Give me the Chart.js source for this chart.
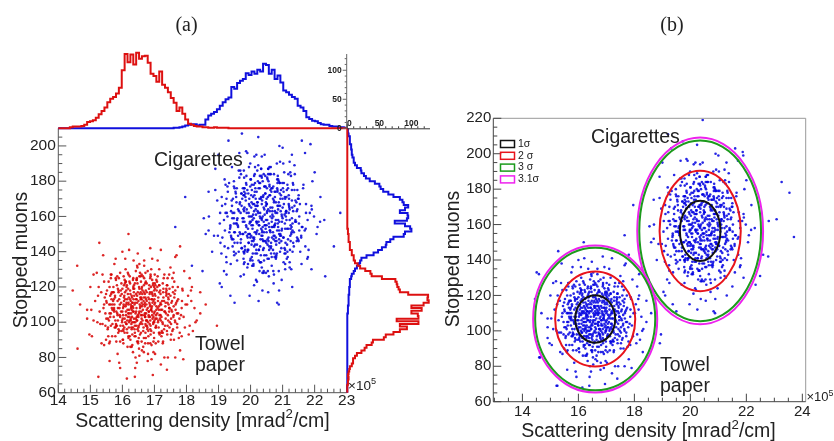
<!DOCTYPE html>
<html>
<head>
<meta charset="utf-8">
<script src="https://cdn.jsdelivr.net/npm/chart.js@4.4.1/dist/chart.umd.min.js"></script>
<style>
  html, body { margin: 0; padding: 0; background: #fff; }
  #wrap { position: relative; width: 834px; height: 441px; overflow: hidden; }
  #wrap canvas { position: absolute; left: 0; top: 0; }
</style>
</head>
<body>
<div id="wrap">
  <canvas id="aMain" width="834" height="441"></canvas>
  <canvas id="aTop" width="834" height="441"></canvas>
  <canvas id="aSide" width="834" height="441"></canvas>
  <canvas id="bMain" width="834" height="441"></canvas>
</div>
<script>
// ---- Data ----
// scattering density in 1e5 mrad^2/cm, stopped muons per voxel
const towelPts = [
  [16.48,104],[16.93,113],[16.12,99],[17.36,117],[16.71,122],[15.86,108],[16.55,93],[17.12,101],[16.29,115],[16.82,106],
  [15.62,103],[17.58,96],[16.04,126],[16.69,110],[16.91,87],[16.21,107],[17.24,112],[15.97,95],[16.47,131],[17.02,119],
  [16.36,100],[15.71,117],[16.78,97],[17.46,108],[16.13,111],[16.61,84],[17.83,104],[15.38,99],[16.88,127],[16.25,90],
  [16.72,114],[17.16,93],[15.83,121],[16.52,105],[17.63,116],[16.01,102],[16.96,99],[16.39,122],[15.51,111],[17.31,106],
  [16.63,118],[16.16,86],[17.06,124],[15.76,97],[16.86,103],[16.44,113],[17.71,99],[16.28,109],[15.93,128],[16.99,91],
  [16.58,100],[17.39,121],[16.07,94],[16.76,107],[15.66,113],[17.21,110],[16.41,80],[16.93,116],[15.29,106],[17.52,102],
  [16.18,119],[16.81,95],[16.53,126],[17.09,105],[15.86,101],[16.66,112],[17.97,110],[16.33,97],[16.02,108],[17.27,89],
  [16.71,103],[15.57,123],[16.89,120],[16.22,101],[17.43,114],[16.49,88],[15.98,116],[17.13,97],[16.61,109],[16.35,135],
  [16.84,111],[16.11,104],[17.05,98],[16.57,117],[15.78,92],[17.29,125],[16.43,106],[16.97,83],[16.26,112],[17.66,107],
  [15.92,110],[16.74,101],[16.38,96],[17.18,118],[16.05,121],[16.67,91],[17.48,100],[15.45,114],[16.91,108],[16.3,103],
  [16.79,129],[15.69,99],[17.35,111],[16.46,115],[16.15,94],[17.01,106],[16.6,102],[15.89,125],[17.57,120],[16.34,108],
  [16.87,96],[16.09,113],[17.22,103],[16.54,110],[15.61,89],[16.95,121],[16.27,105],[17.79,94],[16.7,116],[15.99,100],
  [17.11,112],[16.44,98],[16.82,104],[15.34,117],[17.4,93],[16.19,127],[16.64,107],[17.03,115],[15.81,106],[16.52,85],
  [17.26,99],[16.37,119],[16.92,109],[16.06,97],[18.15,112],[16.58,123],[15.73,103],[17.14,107],[16.23,92],[16.77,101],
  [17.62,123],[16.4,111],[15.95,118],[16.98,94],[16.31,100],[17.34,109],[16.68,132],[15.54,96],[16.86,117],[16.12,110],
  [17.07,102],[16.5,97],[16.2,114],[17.51,90],[16.74,113],[15.84,105],[16.45,124],[17.19,116],[16.03,88],[16.62,104],
  [17.88,118],[16.28,99],[15.67,108],[16.94,102],[16.36,117],[17.3,96],[16.56,114],[15.43,123],[17.0,110],[16.17,103],
  [16.81,92],[16.48,139],[17.42,104],[15.9,113],[16.73,98],[16.08,117],[17.15,121],[16.59,106],[15.49,90],[16.99,100],
  [16.32,109],[17.68,111],[16.87,125],[16.14,96],[17.1,108],[16.42,102],[15.77,115],[16.79,78],[17.37,115],[16.24,122],
  [16.65,95],[16.0,106],[17.2,101],[16.53,119],[15.63,110],[16.9,107],[16.29,86],[17.55,106],[16.76,122],[15.94,98],
  [16.46,111],[18.32,101],[16.1,130],[16.97,112],[16.39,94],[17.28,119],[15.72,120],[16.62,99],[17.04,97],[16.19,110],
  [16.85,116],[15.58,101],[17.46,127],[16.55,108],[16.05,112],[17.12,89],[16.7,105],[15.87,94],[16.34,120],[17.74,113],
  [16.93,104],[16.26,101],[15.41,108],[17.07,118],[16.6,113],[16.11,123],[17.33,98],[16.5,95],[15.96,111],[16.84,121],
  [17.59,103],[16.21,105],[16.75,110],[15.66,127],[17.24,107],[16.43,116],[16.88,98],[16.15,101],[17.95,97],[16.57,126],
  [15.85,104],[16.99,105],[16.35,113],[17.17,102],[16.67,117],[15.52,118],[16.8,100],[16.31,93],[17.44,110],[16.04,109],
  [16.38,110],[16.77,98],[16.06,115],[17.19,104],[16.52,120],[15.93,103],[16.86,109],[16.29,96],[17.44,113],[16.63,101],
  [15.74,107],[17.08,123],[16.41,92],[16.95,115],[16.18,105],[17.6,109],[16.55,128],[15.85,112],[16.72,94],[17.25,100],
  [16.12,118],[16.89,107],[15.55,97],[17.37,119],[16.46,101],[16.01,90],[17.02,111],[16.67,121],[16.24,113],[17.78,102],
  [15.8,99],[16.59,114],[17.14,94],[16.33,124],[16.97,103],[15.65,116],[16.44,108],[17.31,127],[16.09,100],[16.83,119],
  [16.51,91],[17.5,115],[15.97,122],[16.74,105],[16.2,97],[17.06,109],[15.47,105],[16.64,126],[16.36,102],[17.22,92],
  [16.91,113],[16.04,110],[17.65,100],[16.48,117],[15.77,114],[16.8,88],[16.27,108],[17.33,106],[16.6,111],[15.9,95],
  [17.0,101],[16.42,129],[16.16,107],[17.41,98],[16.7,109],[15.6,120],[16.93,124],[16.31,111],[17.12,114],[16.55,99],
  [16.02,104],[17.85,108],[16.78,96],[16.25,116],[15.68,92],[17.27,117],[16.45,103],[16.99,118],[16.14,121],[17.53,111],
  [16.58,94],[15.88,117],[16.87,101],[16.35,106],[17.18,110],[16.65,86],[16.07,102],[17.4,121],[16.5,112],[15.75,110],
  [17.04,97],[16.23,126],[16.81,114],[17.7,105],[16.39,98],[15.96,106],[16.73,118],[17.16,104],[16.19,91],[16.94,111],
  [16.62,116],[15.5,102],[17.35,102],[16.47,122],[16.1,109],[16.85,99],[17.58,117],[16.3,114],[15.83,98],[16.69,104],
  [17.09,120],[16.53,106],[16.0,119],[17.23,95],[16.4,100],[16.76,112],[15.71,112],[17.47,108],[16.22,103],[16.9,130],
  [16.57,113],[16.13,99],[17.01,116],[16.34,119],[15.91,108],[17.3,112],[16.66,97],[16.44,124],[17.11,100],[16.05,114],
  [16.83,106],[15.64,105],[17.62,114],[16.49,89],[16.26,110],[16.96,122],[16.71,103],[15.99,101],[17.2,107],[16.37,115],
  [16.6,119],[17.39,95],[16.17,116],[16.86,110],[15.8,124],[17.05,104],[16.51,98],[16.29,107],[17.73,120],[16.75,101],
  [16.03,96],[16.92,117],[16.43,113],[17.14,109],[15.59,110],[16.68,125],[16.21,100],[17.28,114],[16.58,104],[16.88,93],
  [16.11,106],[17.52,99],[16.36,121],[16.79,108],[15.94,115],[17.0,113],[16.47,96],[16.24,118],[17.36,105],[16.63,110],
  [15.78,101],[16.97,100],[16.32,111],[17.1,126],[16.54,116],[16.08,122],[16.82,103],[17.45,116],[16.41,105],[15.86,119],
  [16.72,99],[17.19,111],[16.15,113],[16.9,95],[16.56,109],[15.69,107],[17.06,107],[16.38,92],[16.99,120],[16.26,102],
  [17.6,104],[16.67,114],[16.02,98],[16.84,113],[16.45,101],[17.26,122],[15.92,104],[16.61,120],[16.19,111],[17.03,102],
  [16.76,117],[16.33,106],[15.62,115],[17.15,117],[16.5,103],[16.93,106],[16.07,124],[17.41,111],[16.28,97],[16.7,111],
  [17.53,107],[17.86,112],[18.17,120],[17.47,119],[17.6,128],[17.03,121],[17.2,141],[16.72,128],[16.46,132],[16.09,136],
  [16.1,123],[15.64,127],[15.1,127],[15.49,116],[15.69,110],[15.03,107],[15.55,102],[14.97,93],[15.56,92],[16.03,95],
  [15.85,82],[16.25,86],[16.39,69],[16.71,88],[17.02,82],[17.42,80],[17.22,94],[17.76,91],[17.71,97],[18.28,100],
  [18.02,110],[17.55,112],[17.65,118],[17.93,129],[17.15,121],[17.15,130],[16.93,136],[16.6,127],[16.21,141],[16.22,123],
  [15.84,126],[15.38,127],[15.67,117],[15.24,115],[14.68,110],[15.6,105],[15.31,99],[15.8,98],[15.43,87],[15.93,89],
  [15.9,77],[16.33,83],[16.6,89],[16.91,79],[17.04,88],[17.65,80],[17.61,90],[17.47,97],[18.1,98],[17.74,105],
  [17.46,108],[17.71,112],[17.87,119],[17.38,118],[17.41,125],[17.01,122],[16.88,126],[16.68,135],[16.45,125],[16.17,128],
  [16.13,120],[15.64,125],[15.73,117],[15.73,113],[15.43,110],[15.74,106],[15.22,100],[15.64,98],[15.88,96],[15.81,89],
  [16.19,92],[16.31,87],[16.53,81],[16.73,91],[16.97,89],[17.26,88],[17.26,94],[17.56,95],[17.43,101],[17.91,103],
  [17.66,110],[18.14,118],[17.38,116],[17.56,125],[17.69,138],[17.01,127],[16.73,123],[16.53,133],[16.34,125],[15.79,136],
  [15.79,125],[15.88,118],[15.26,120],[15.5,112],[15.74,108],[14.9,102],[15.47,98],[15.79,97],[15.59,88],[16.02,90],
  [15.93,74],[16.46,89],[16.67,83],[16.87,88],[17.31,80],[17.16,94],[17.52,93],[18.07,93],[17.64,101],[17.46,106],
  [15.15,112],[18.05,115],[16.45,77],[17.1,135],[15.35,88],[17.85,92],[15.75,133],[16.8,82],[18.25,108],[15.1,101],
  [14.59,132],[14.45,118],[14.6,85],[15.25,69],[15.28,145],[16.19,150],[16.14,68],[16.87,142],[17.5,131],[17.8,143],
  [18.43,117],[18.95,98],[17.8,84],[17.39,73],[18.43,105],[15.05,92],[18.1,125],[15.2,128],[17.9,79],[16.4,74],
  [15.6,78],[18.2,95],[14.9,107],[17.65,137],[15.4,138],[16.95,70],[18.6,110],[15.0,120],[17.2,76],[16.0,140]
];

const cigPts = [
  [20.21,152],[20.68,163],[19.94,145],[21.12,171],[20.47,177],[19.58,158],[20.32,138],[20.89,150],[20.03,168],[20.57,156],
  [19.36,153],[21.35,143],[19.8,182],[20.44,161],[20.66,132],[19.98,157],[21.0,165],[19.72,142],[20.24,189],[20.78,174],
  [20.11,148],[19.45,170],[20.53,144],[21.22,158],[19.88,162],[20.37,128],[21.6,154],[19.12,148],[20.63,184],[20.0,136],
  [20.48,168],[20.92,140],[19.57,176],[20.27,155],[21.4,169],[19.77,150],[20.72,147],[20.14,179],[19.26,162],[21.07,156],
  [20.4,172],[19.9,131],[20.83,181],[19.5,145],[20.61,152],[20.2,166],[21.48,147],[20.04,160],[19.68,186],[20.75,137],
  [20.34,149],[21.15,178],[19.83,141],[20.52,158],[19.42,166],[20.97,161],[20.17,124],[20.7,170],[19.04,156],[21.28,151],
  [19.93,173],[20.58,143],[20.29,183],[20.86,154],[19.61,149],[20.43,164],[21.73,162],[20.09,146],[19.78,159],[21.03,134],
  [20.47,153],[19.33,179],[20.65,176],[19.97,150],[21.19,167],[20.25,135],[19.74,170],[20.9,145],[20.38,160],[20.12,194],
  [20.6,163],[19.87,154],[20.81,146],[20.33,171],[19.54,139],[21.05,185],[20.19,157],[20.73,127],[20.02,165],[21.42,157],
  [19.69,162],[20.5,151],[20.14,144],[20.95,172],[19.81,176],[20.43,138],[21.24,149],[19.21,167],[20.67,159],[20.06,153],
  [20.55,187],[19.46,147],[21.11,163],[20.22,168],[19.91,141],[20.77,156],[20.36,152],[19.65,182],[21.33,178],[20.1,159],
  [20.63,142],[19.85,169],[20.98,153],[20.3,162],[19.38,133],[20.71,177],[20.03,155],[21.55,140],[20.46,173],[19.75,150],
  [20.87,166],[20.2,144],[20.58,154],[19.1,171],[21.16,137],[19.95,188],[20.41,157],[20.79,168],[19.57,156],[20.28,129],
  [21.02,148],[20.13,174],[20.68,161],[19.82,143],[21.9,166],[20.34,183],[19.49,151],[20.9,157],[19.99,135],[20.53,147],
  [21.38,184],[20.16,164],[19.71,173],[20.74,139],[20.07,148],[21.1,160],[20.44,195],[19.3,142],[20.62,175],[19.88,164],
  [20.83,152],[20.26,141],[19.96,170],[21.27,130],[20.5,167],[19.6,155],[20.21,186],[20.95,175],[19.79,133],[20.38,154],
  [21.64,176],[20.04,146],[19.43,159],[20.7,151],[20.12,172],[21.06,142],[20.32,170],[19.19,181],[20.76,163],[19.93,150],
  [20.57,136],[20.24,205],[21.18,153],[19.66,167],[20.49,145],[19.84,173],[20.91,179],[20.35,158],[19.25,134],[20.75,149],
  [20.08,161],[21.44,163],[20.63,188],[19.9,140],[20.86,158],[20.18,151],[19.53,174],[20.55,117],[21.13,175],[20.0,181],
  [20.41,142],[19.76,157],[20.96,146],[20.29,176],[19.39,163],[20.66,157],[20.05,132],[21.31,156],[20.52,182],[19.7,147],
  [20.22,166],[22.06,150],[19.86,197],[20.73,168],[20.15,139],[21.04,179],[19.48,180],[20.39,146],[20.8,144],[19.95,160],
  [20.61,172],[19.34,151],[21.22,191],[20.31,159],[19.81,165],[20.88,129],[20.46,155],[19.63,140],[20.1,178],[21.5,170],
  [20.69,154],[20.02,149],[19.17,158],[20.83,176],[20.36,169],[19.87,183],[21.09,145],[20.26,141],[19.72,166],[20.6,184],
  [21.35,151],[19.97,156],[20.51,162],[19.42,188],[21.0,159],[20.19,174],[20.64,145],[19.91,148],[21.71,143],[20.33,187],
  [19.61,154],[20.75,155],[20.11,167],[20.93,150],[20.43,177],[19.28,177],[20.56,148],[20.07,139],[21.2,166],[19.8,163],
  [20.29,160],[20.72,149],[19.97,166],[21.14,153],[20.5,170],[19.66,151],[20.83,162],[20.18,141],[21.37,166],[20.56,146],
  [19.75,159],[20.99,179],[20.33,134],[20.88,168],[20.07,155],[21.52,160],[20.46,183],[19.78,164],[20.64,139],[21.17,147],
  [20.02,172],[20.79,158],[19.44,143],[21.29,175],[20.37,147],[19.92,133],[20.94,163],[20.59,178],[20.15,166],[21.69,152],
  [19.69,145],[20.51,167],[21.06,139],[20.23,180],[20.89,152],[19.55,171],[20.35,159],[21.24,185],[19.99,148],[20.75,174],
  [20.42,135],[21.43,168],[19.87,178],[20.66,154],[20.11,143],[20.98,160],[19.37,154],[20.55,184],[20.27,150],[21.13,136],
  [20.84,166],[19.94,162],[21.58,148],[20.39,171],[19.67,168],[20.71,129],[20.18,157],[21.25,155],[20.52,163],[19.81,140],
  [20.92,149],[20.33,187],[20.06,158],[21.33,145],[20.62,160],[19.5,176],[20.86,181],[20.22,163],[21.04,167],[20.47,146],
  [19.92,153],[21.78,158],[20.7,141],[20.16,170],[19.58,135],[21.19,172],[20.36,151],[20.91,173],[20.04,178],[21.46,164],
  [20.49,138],[19.78,172],[20.79,148],[20.26,155],[21.1,162],[20.57,126],[19.97,150],[21.32,179],[20.41,165],[19.64,163],
  [20.96,142],[20.13,184],[20.73,169],[21.62,154],[20.3,143],[19.86,155],[20.65,174],[21.08,153],[20.09,132],[20.86,164],
  [20.54,171],[19.4,148],[21.27,150],[20.38,180],[20.0,160],[20.77,146],[21.5,172],[20.21,168],[19.73,142],[20.6,152],
  [21.01,176],[20.44,155],[19.9,175],[21.15,140],[20.31,147],[20.68,165],[19.61,164],[21.39,157],[20.13,151],[20.82,190],
  [20.48,166],[20.03,144],[20.93,170],[20.25,176],[19.81,157],[21.22,164],[20.58,141],[20.35,182],[21.03,148],[19.95,167],
  [20.75,155],[19.54,156],[21.54,167],[20.41,128],[20.17,161],[20.88,180],[20.62,151],[19.89,149],[21.12,158],[20.28,170],
  [20.51,176],[21.31,140],[20.08,171],[20.78,162],[19.7,184],[20.97,152],[20.43,146],[20.2,156],[21.65,178],[20.67,148],
  [19.93,141],[20.84,175],[20.35,167],[21.06,161],[19.49,162],[20.59,188],[20.11,147],[21.2,170],[20.5,155],[20.8,137],
  [20.01,157],[21.44,146],[20.27,179],[20.71,160],[19.84,171],[20.92,166],[20.39,141],[20.15,176],[21.28,154],[20.55,164],
  [19.68,150],[20.89,147],[20.24,162],[21.02,190],[20.46,173],[19.99,177],[20.74,154],[21.37,175],[20.33,153],[19.76,176],
  [20.64,143],[21.11,163],[20.07,167],[20.82,139],[20.48,158],[19.59,159],[20.98,157],[20.3,134],[20.91,179],[20.18,150],
  [21.52,152],[20.59,172],[19.94,145],[20.76,171],[20.37,149],[21.18,184],[19.84,151],[20.53,181],[20.11,163],[20.95,149],
  [20.68,176],[20.25,157],[19.54,173],[21.07,171],[20.42,151],[20.85,156],[19.99,190],[21.33,163],[20.2,139],[20.62,165],
  [21.51,156],[21.91,164],[21.21,165],[21.46,175],[21.03,174],[21.29,195],[20.73,184],[20.44,177],[20.18,195],[20.01,181],
  [19.63,186],[19.72,173],[19.29,174],[18.69,174],[19.22,162],[19.48,156],[18.86,149],[19.42,147],[19.24,137],[19.04,122],
  [19.81,134],[20.06,135],[20.2,123],[20.48,128],[20.89,118],[20.8,138],[21.22,134],[21.23,141],[21.81,141],[21.31,152],
  [21.29,159],[21.73,167],[21.29,169],[21.0,170],[21.37,189],[20.85,183],[20.56,180],[20.35,194],[20.11,183],[19.79,186],
  [19.8,174],[18.9,187],[19.41,169],[19.11,166],[19.48,159],[18.69,152],[19.39,149],[19.09,139],[19.49,138],[19.8,139],
  [19.79,127],[19.97,115],[20.35,131],[20.53,136],[20.97,124],[21.08,133],[21.08,141],[21.79,137],[21.45,148],[21.72,153],
  [21.4,158],[21.19,162],[21.48,170],[21.08,170],[21.26,183],[20.84,179],[20.59,177],[20.41,184],[20.14,188],[20.04,175],
  [19.8,176],[19.48,177],[19.56,168],[18.96,169],[19.28,160],[19.37,155],[19.51,151],[19.19,143],[19.48,140],[19.78,140],
  [19.69,126],[20.09,133],[20.3,134],[20.54,129],[20.66,137],[21.08,130],[21.09,139],[21.14,144],[21.5,146],[21.25,153],
  [21.85,162],[21.3,165],[21.93,180],[21.17,176],[20.84,174],[20.92,191],[20.55,187],[20.3,179],[19.9,196],[19.86,179],
  [19.8,172],[19.22,178],[19.25,170],[19.44,162],[18.54,159],[19.2,152],[19.06,145],[19.59,145],[19.17,129],[19.78,136],
  [20.04,137],[20.11,121],[20.41,129],[20.88,110],[20.79,136],[21.22,131],[21.59,133],[21.25,146],[21.58,149],[22.09,154],
  [19.05,162],[21.98,160],[20.37,118],[21.0,199],[19.25,127],[21.77,136],[19.65,196],[20.72,122],[22.17,157],[18.98,149],
  [17.65,154],[17.96,171],[18.17,132],[18.5,129],[19.37,115],[19.5,111],[20.25,112],[20.83,111],[19.31,203],[19.73,207],
  [21.6,203],[21.87,201],[22.6,143],[22.8,162],[22.33,126],[22.18,171],[18.7,160],[18.9,175],[22.0,185],[21.9,130],
  [18.8,140],[19.0,195],[21.7,196],[22.3,158],[19.1,120],[21.3,120],[18.6,150],[20.9,200]
];

// stray entries that only show in the wider (b) frame
const extraPtsB = [
  [23.54,178],[23.7,153],[20.44,219],[23.08,163],[22.78,142],[23.26,184],[22.49,131],[21.89,199],
  [14.51,133],[14.63,85],[15.22,69],[18.91,93],[18.3,88],[14.9,96],[21.5,125],[19.2,211]
];

// projections: 100 bins over 14..23 (x) and 60..210 (y)
const xBinLo = 14, xBinW = 0.09;
const yBinLo = 60, yBinW = 1.5;

const towelXHist = [
  0,0,0,0,2,3,3,3,4,6,
  11,12,14,18,24,30,36,45,51,54,
  60,70,100,128,114,127,110,130,120,124,
  125,113,94,90,80,98,75,70,62,52,
  44,30,36,25,15,8,6,4,3,3,
  2,2,1,1,2,1,1,1,1,0,
  0,0,0,0,0,0,0,0,0,0,
  0,0,0,0,0,0,0,0,0,0,
  0,0,0,0,0,0,0,0,0,0,
  0,0,0,0,0,0,0,0,0,0
];
const cigXHist = [
  0,0,0,0,0,0,0,0,0,0,
  0,0,0,0,0,0,0,0,0,0,
  0,0,0,0,0,0,0,0,0,0,
  0,0,0,0,0,0,0,0,0,0,
  1,1,2,3,5,6,7,7,5,6,
  6,15,22,25,28,33,39,45,50,53,
  71,68,78,82,85,95,92,98,94,101,
  98,111,109,94,101,85,91,79,65,62,
  58,54,51,39,36,30,19,16,13,12,
  9,7,6,6,4,3,3,2,2,1
];
const towelYHist = [
  0,0,0,1,1,2,1,2,3,4,
  7,9,9,12,15,22,27,30,38,40,
  57,60,72,82,93,82,111,77,111,110,
  100,116,100,119,127,125,126,95,82,80,
  78,77,75,54,38,36,28,20,16,12,
  10,10,7,7,4,4,4,2,2,2,
  1,1,0,0,0,0,0,0,0,0,
  0,0,0,0,0,0,0,0,0,0,
  0,0,0,0,0,0,0,0,0,0,
  0,0,0,0,0,0,0,0,0,0
];
const cigYHist = [
  0,0,0,0,0,0,0,0,0,0,
  0,0,0,0,0,0,0,0,0,0,
  0,0,0,0,0,0,0,0,0,0,
  1,1,1,2,2,2,2,3,3,3,
  4,4,4,6,7,10,12,15,18,20,
  22,30,41,48,54,60,61,67,72,88,
  90,100,98,90,74,93,95,94,82,90,
  95,88,86,82,72,64,56,52,50,43,
  35,29,26,22,21,15,12,10,10,8,
  7,7,6,6,4,4,4,2,1,1
];

// tick labels
const aXTicks = [14,15,16,17,18,19,20,21,22,23];
const aYTicks = [60,80,100,120,140,160,180,200];
const bXTicks = [14,16,18,20,22,24];
const bYTicks = [60,80,100,120,140,160,180,200,220];
const countTicks = [0,50,100];

// sigma contours
const sigmaLevels = [1, 2, 3, 3.1];
const sigmaLabels = ['1σ', '2 σ', '3 σ', '3.1σ'];
const towelMean = [16.6, 106.7], towelSigma = [0.715, 13.4];
const cigMean = [20.35, 156.4], cigSigma = [0.725, 17.0];

// ---- Layout ----
const W = 834, H = 441;
const FONT = "'Liberation Sans', Arial, sans-serif";
const SERIF = "'Liberation Serif', 'Times New Roman', serif";
const A_MAIN = {l: 58.3, t: 128.3, r: 346.7, b: 392.7};
const A_TOP  = {l: 58.3, t: 54,    r: 346.7, b: 128.3};
const A_SIDE = {l: 347.3, t: 128.3, r: 430,  b: 392.7};
const B_MAIN = {l: 493.3, t: 118.3, r: 805.7, b: 401.7};

const padFor = r => ({left: r.l, top: r.t, right: W - r.r, bottom: H - r.b});
const hidden = (min, max) => ({type: 'linear', min, max, display: false});
const toXY = pts => pts.map(([x, y]) => ({x, y}));

function stepsAcross(counts, lo, w) {
  const pts = counts.map((c, i) => ({x: lo + i * w, y: c}));
  pts.push({x: lo + counts.length * w, y: counts[counts.length - 1]});
  return pts;
}
function stepsDown(counts, lo, w) {
  const pts = counts.map((c, j) => ({x: c, y: lo + j * w}));
  pts.push({x: counts[counts.length - 1], y: lo + counts.length * w});
  return pts;
}
function tickRun(from, to, step) {
  const n = Math.round((to - from) / step);
  const out = [];
  for (let k = 0; k <= n; k++) out.push(+(from + k * step).toFixed(4));
  return out;
}
const isMult = (v, m) => Math.abs(v / m - Math.round(v / m)) < 1e-6;

function rich(ctx, parts, x, y, size, align, color) {
  ctx.fillStyle = color || '#222';
  ctx.textAlign = 'left';
  ctx.textBaseline = 'alphabetic';
  const widths = parts.map(([t, sup]) => {
    ctx.font = `${sup ? size * 0.68 : size}px ${FONT}`;
    return ctx.measureText(t).width;
  });
  const total = widths.reduce((s, w) => s + w, 0);
  let cx = align === 'center' ? x - total / 2 : x;
  parts.forEach(([t, sup], i) => {
    ctx.font = `${sup ? size * 0.68 : size}px ${FONT}`;
    ctx.fillText(t, cx, sup ? y - size * 0.42 : y);
    cx += widths[i];
  });
}
function label(ctx, s, x, y, font, align, base) {
  ctx.font = font;
  ctx.fillStyle = '#222';
  ctx.textAlign = align || 'left';
  ctx.textBaseline = base || 'alphabetic';
  ctx.fillText(s, x, y);
}
function vTitle(ctx, s, x, y, size) {
  ctx.save();
  ctx.translate(x, y);
  ctx.rotate(-Math.PI / 2);
  label(ctx, s, 0, 0, `${size}px ${FONT}`, 'center');
  ctx.restore();
}
const xTitle = [['Scattering density [mrad', false], ['2', true], ['/cm]', false]];

const histLine = (data, color, stepped) => ({
  data, showLine: true, stepped, borderColor: color, borderWidth: 2,
  pointRadius: 0, clip: false, tension: 0
});
const cloud = (pts, color) => ({
  data: toXY(pts), pointRadius: 1.3, pointBorderWidth: 0, backgroundColor: color
});

// ---- (a) scatter ----
new Chart(document.getElementById('aMain'), {
  type: 'scatter',
  data: {
    datasets: [
      cloud(towelPts, 'rgba(215,0,0,0.85)'),
      cloud(cigPts, 'rgba(0,0,215,0.85)')
    ]
  },
  options: {
    responsive: false, animation: false, events: [],
    layout: {padding: padFor(A_MAIN)},
    plugins: {legend: {display: false}, tooltip: {enabled: false}},
    scales: {x: hidden(14, 23), y: hidden(60, 210)}
  },
  plugins: [{
    id: 'aFrame',
    afterDraw(chart) {
      const {ctx, chartArea: a, scales: {x, y}} = chart;
      ctx.save();
      ctx.strokeStyle = '#555';
      ctx.lineWidth = 1;
      ctx.beginPath();
      ctx.moveTo(a.left, a.top); ctx.lineTo(a.left, a.bottom); ctx.lineTo(a.right, a.bottom);
      tickRun(14, 23, 0.2).forEach(v => {
        const px = x.getPixelForValue(v), len = isMult(v, 1) ? 8 : 4;
        ctx.moveTo(px, a.bottom); ctx.lineTo(px, a.bottom - len);
      });
      tickRun(60, 210, 5).forEach(v => {
        const py = y.getPixelForValue(v), len = isMult(v, 20) ? 8 : 4;
        ctx.moveTo(a.left, py); ctx.lineTo(a.left + len, py);
      });
      ctx.stroke();

      const tf = `15.5px ${FONT}`;
      aXTicks.forEach(v => label(ctx, String(v), x.getPixelForValue(v), a.bottom + 8, tf, 'center', 'middle'));
      aYTicks.forEach(v => label(ctx, String(v), a.left - 2.5, y.getPixelForValue(v), tf, 'right', 'middle'));

      rich(ctx, xTitle, 202.5, 426.5, 19.5, 'center');
      vTitle(ctx, 'Stopped muons', 27, 260, 19.5);
      rich(ctx, [['×10', false], ['5', true]], 348, 390, 13.5, 'left');

      const af = `19.5px ${FONT}`;
      label(ctx, 'Cigarettes', 154, 166, af);
      label(ctx, 'Towel', 195, 350, af);
      label(ctx, 'paper', 195, 371, af);

      ctx.font = `20px ${SERIF}`;
      ctx.textAlign = 'center';
      ctx.fillText('(a)', 186.5, 31);
      ctx.restore();
    }
  }]
});

// ---- (a) projection on scattering density ----
new Chart(document.getElementById('aTop'), {
  type: 'scatter',
  data: {
    datasets: [
      histLine(stepsAcross(towelXHist, xBinLo, xBinW), '#dd1010', 'before'),
      histLine(stepsAcross(cigXHist, xBinLo, xBinW), '#1010dd', 'before')
    ]
  },
  options: {
    responsive: false, animation: false, events: [],
    layout: {padding: padFor(A_TOP)},
    plugins: {legend: {display: false}, tooltip: {enabled: false}},
    scales: {x: hidden(14, 23), y: hidden(0, 128)}
  },
  plugins: [{
    id: 'aTopAxis',
    afterDraw(chart) {
      const {ctx, chartArea: a, scales: {y}} = chart;
      ctx.save();
      ctx.strokeStyle = '#666';
      ctx.lineWidth = 1;
      ctx.beginPath();
      ctx.moveTo(a.right, a.top); ctx.lineTo(a.right, a.bottom);
      tickRun(0, 120, 10).forEach(v => {
        const py = y.getPixelForValue(v), len = isMult(v, 50) ? 4 : 2;
        ctx.moveTo(a.right, py); ctx.lineTo(a.right - len, py);
      });
      ctx.stroke();
      countTicks.forEach(v => label(ctx, String(v), a.right - 5, y.getPixelForValue(v), `bold 8.5px ${FONT}`, 'right', 'middle'));
      ctx.restore();
    }
  }]
});

// ---- (a) projection on stopped muons ----
new Chart(document.getElementById('aSide'), {
  type: 'scatter',
  data: {
    datasets: [
      histLine(stepsDown(towelYHist, yBinLo, yBinW), '#dd1010', 'after'),
      histLine(stepsDown(cigYHist, yBinLo, yBinW), '#1010dd', 'after')
    ]
  },
  options: {
    responsive: false, animation: false, events: [],
    layout: {padding: padFor(A_SIDE)},
    plugins: {legend: {display: false}, tooltip: {enabled: false}},
    scales: {x: hidden(0, 129), y: hidden(60, 210)}
  },
  plugins: [{
    id: 'aSideAxis',
    afterDraw(chart) {
      const {ctx, chartArea: a, scales: {x}} = chart;
      ctx.save();
      ctx.strokeStyle = '#333';
      ctx.lineWidth = 1;
      ctx.beginPath();
      ctx.moveTo(a.left, a.top + 0.5); ctx.lineTo(a.right, a.top + 0.5);
      tickRun(0, 120, 10).forEach(v => {
        const px = x.getPixelForValue(v), len = isMult(v, 50) ? 4 : 2;
        ctx.moveTo(px, a.top); ctx.lineTo(px, a.top - len);
      });
      ctx.stroke();
      countTicks.forEach(v => label(ctx, String(v), x.getPixelForValue(v) + (v ? 0 : 2), a.top - 2, `bold 8.5px ${FONT}`, 'center', 'alphabetic'));
      ctx.restore();
    }
  }]
});

// ---- (b) scatter with sigma contours ----
new Chart(document.getElementById('bMain'), {
  type: 'scatter',
  data: {
    datasets: [cloud(towelPts.concat(cigPts, extraPtsB), 'rgba(0,0,225,0.85)')]
  },
  options: {
    responsive: false, animation: false, events: [],
    layout: {padding: padFor(B_MAIN)},
    plugins: {legend: {display: false}, tooltip: {enabled: false}},
    scales: {x: hidden(12.96, 24.12), y: hidden(60, 220)}
  },
  plugins: [{
    id: 'bFrame',
    afterDraw(chart) {
      const {ctx, chartArea: a, scales: {x, y}} = chart;
      const colors = ['#111', '#e8141c', '#1c9a1c', '#ee22ee'];
      ctx.save();

      // contours, outermost first
      [cigMean, towelMean].forEach((m, k) => {
        const s = k ? towelSigma : cigSigma;
        const cx = x.getPixelForValue(m[0]), cy = y.getPixelForValue(m[1]);
        for (let i = sigmaLevels.length - 1; i >= 0; i--) {
          const n = sigmaLevels[i];
          const rx = x.getPixelForValue(m[0] + n * s[0]) - cx;
          const ry = cy - y.getPixelForValue(m[1] + n * s[1]);
          ctx.beginPath();
          ctx.ellipse(cx, cy, rx, ry, 0, 0, Math.PI * 2);
          ctx.strokeStyle = colors[i];
          ctx.lineWidth = 2;
          ctx.stroke();
        }
      });

      // frame and ticks
      ctx.lineWidth = 1;
      ctx.strokeStyle = '#999';
      ctx.beginPath();
      ctx.moveTo(a.left, a.top); ctx.lineTo(a.right, a.top); ctx.lineTo(a.right, a.bottom);
      ctx.stroke();
      ctx.strokeStyle = '#444';
      ctx.beginPath();
      ctx.moveTo(a.left, a.top); ctx.lineTo(a.left, a.bottom); ctx.lineTo(a.right, a.bottom);
      tickRun(13, 24, 0.5).forEach(v => {
        const px = x.getPixelForValue(v), len = isMult(v, 2) ? 8 : 4;
        ctx.moveTo(px, a.bottom); ctx.lineTo(px, a.bottom - len);
      });
      tickRun(60, 220, 5).forEach(v => {
        const py = y.getPixelForValue(v), len = isMult(v, 20) ? 8 : 4;
        ctx.moveTo(a.left, py); ctx.lineTo(a.left + len, py);
      });
      ctx.stroke();

      const tf = `15px ${FONT}`;
      bXTicks.forEach(v => label(ctx, String(v), x.getPixelForValue(v), a.bottom + 10, tf, 'center', 'middle'));
      bYTicks.forEach(v => label(ctx, String(v), a.left - 2, y.getPixelForValue(v), tf, 'right', 'middle'));

      rich(ctx, xTitle, 648.5, 437, 19.5, 'center');
      vTitle(ctx, 'Stopped muons', 459, 259, 19.5);
      rich(ctx, [['×10', false], ['5', true]], 806.5, 401, 13, 'left');

      const af = `19.5px ${FONT}`;
      label(ctx, 'Cigarettes', 591, 143, af);
      label(ctx, 'Towel', 660, 371, af);
      label(ctx, 'paper', 660, 391.5, af);

      // legend
      const rows = [144, 155.8, 167.6, 179.4];
      sigmaLabels.forEach((t, i) => {
        ctx.strokeStyle = colors[i];
        ctx.lineWidth = 1.5;
        ctx.strokeRect(500.5, rows[i] - 3.5, 14, 7);
        label(ctx, t, 518, rows[i], `10.5px ${FONT}`, 'left', 'middle');
      });

      ctx.font = `20px ${SERIF}`;
      ctx.fillStyle = '#222';
      ctx.textAlign = 'center';
      ctx.textBaseline = 'alphabetic';
      ctx.fillText('(b)', 672, 31);
      ctx.restore();
    }
  }]
});
</script>
</body>
</html>
